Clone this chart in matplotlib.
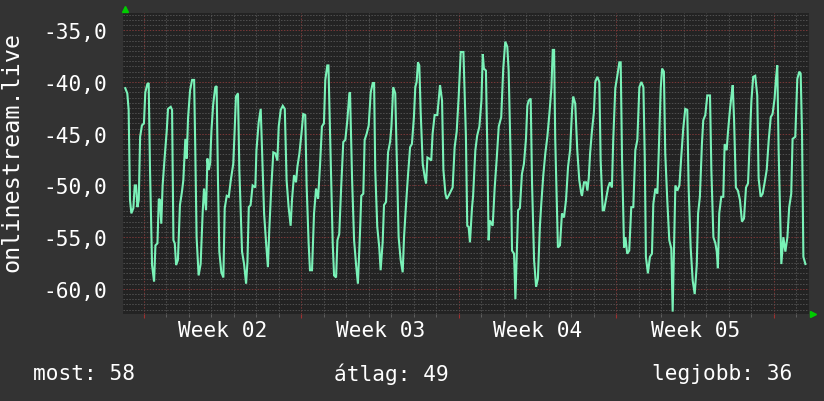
import matplotlib
matplotlib.use('Agg')
import matplotlib.pyplot as plt
from matplotlib.ticker import MultipleLocator, FixedLocator, FuncFormatter
import numpy as np

plt.rcParams['font.family'] = ['DejaVu Sans Mono']

# --- data: time in days from the left edge, value ---
days1 = [0.10, 0.19, 0.25, 0.31, 0.37, 0.46, 0.52, 0.58, 0.64, 0.70, 0.76, 0.84, 0.93, 0.99, 1.08,
         1.14, 1.20, 1.29, 1.38, 1.44, 1.53, 1.59, 1.64, 1.70, 1.76, 1.85, 1.94, 2.00, 2.12, 2.18,
         2.24, 2.30, 2.36, 2.44, 2.53, 2.62, 2.68, 2.77, 2.83, 2.89, 2.98, 3.07, 3.16, 3.21, 3.27,
         3.36, 3.45, 3.54, 3.60, 3.69, 3.75, 3.81, 3.87, 3.93, 4.01, 4.10, 4.16, 4.22, 4.28, 4.37,
         4.46, 4.52, 4.61, 4.70, 4.79, 4.90, 4.96]
vals1 = [-40.6, -41.1, -42.7, -51.4, -52.7, -52.2, -50.0, -50.0, -52.1, -51.4, -45.3, -44.2, -44.0, -41.0, -40.2,
         -40.1, -48.5, -57.7, -59.3, -55.8, -55.6, -51.3, -51.4, -53.7, -50.0, -47.3, -44.8, -42.6, -42.4, -42.7,
         -55.3, -55.6, -57.7, -57.2, -51.9, -50.6, -49.5, -45.5, -47.4, -43.5, -40.8, -39.8, -39.8, -46.3, -55.0,
         -58.7, -57.6, -52.6, -50.3, -52.4, -47.4, -48.5, -47.9, -44.7, -42.1, -40.5, -40.4, -49.5, -56.4, -58.4,
         -58.9, -52.2, -51.0, -51.1, -49.5, -47.9, -44.8]

days2 = [5.02, 5.11, 5.17, 5.29, 5.38, 5.47, 5.53, 5.59, 5.67, 5.76, 5.88, 5.93, 6.03, 6.12, 6.18,
         6.27, 6.36, 6.44, 6.50, 6.59, 6.68, 6.77, 6.86, 6.92, 7.01, 7.10, 7.19, 7.27, 7.36, 7.45,
         7.51, 7.60, 7.69, 7.75, 7.84, 7.93, 8.01, 8.10, 8.16, 8.25, 8.31, 8.40, 8.49, 8.58, 8.67,
         8.76, 8.84, 8.93, 8.99, 9.08, 9.13, 9.23, 9.32, 9.38, 9.47, 9.53, 9.61, 9.70, 9.79, 9.88,
         9.97, 10.06]
vals2 = [-41.4, -41.1, -48.5, -56.4, -57.6, -59.5, -57.4, -52.1, -51.9, -50.0, -50.2, -46.6, -43.9, -42.6, -46.6,
         -52.7, -55.6, -57.9, -54.3, -50.2, -46.8, -46.9, -47.6, -44.3, -42.7, -42.3, -42.6, -49.5, -52.1, -53.9,
         -51.4, -49.0, -49.7, -48.2, -46.9, -45.0, -43.1, -43.2, -50.0, -55.6, -58.2, -58.2, -52.7, -50.3, -51.3,
         -47.9, -44.3, -44.0, -39.8, -38.4, -38.4, -47.3, -55.6, -58.7, -58.9, -55.3, -54.7, -50.0, -45.8, -45.6,
         -43.7, -41.1]

days3 = [10.09, 10.18, 10.27, 10.36, 10.44, 10.53, 10.59, 10.68, 10.74, 10.83, 10.92, 11.01, 11.10, 11.16, 11.21,
         11.30, 11.39, 11.45, 11.54, 11.60, 11.69, 11.78, 11.87, 11.93, 12.01, 12.10, 12.16, 12.25, 12.34, 12.43,
         12.49, 12.58, 12.67, 12.76, 12.84, 12.93, 12.99, 13.05, 13.11, 13.17, 13.23, 13.32, 13.41, 13.47, 13.53,
         13.61, 13.70, 13.76, 13.85, 13.97, 14.03, 14.09, 14.18, 14.24, 14.33, 14.39, 14.47, 14.56, 14.65, 14.74,
         14.83, 14.92, 15.01, 15.13]
vals3 = [-41.0, -49.3, -55.3, -57.7, -59.5, -54.7, -51.0, -50.8, -45.6, -45.0, -44.2, -41.0, -40.1, -40.1, -48.5,
         -54.0, -56.0, -58.2, -55.5, -51.9, -51.6, -46.8, -45.8, -44.3, -40.5, -41.1, -46.6, -55.0, -57.2, -58.4,
         -55.0, -51.8, -48.9, -46.3, -46.0, -43.4, -40.5, -40.0, -38.1, -38.4, -42.9, -47.9, -49.2, -49.8, -47.3,
         -47.4, -47.6, -45.0, -43.2, -43.2, -41.8, -40.3, -41.8, -48.5, -50.8, -51.3, -51.0, -50.6, -50.2, -46.3,
         -44.8, -41.4, -37.1, -37.1]

days4 = [15.24, 15.30, 15.36, 15.42, 15.51, 15.56, 15.66, 15.74, 15.84, 15.93, 15.99, 16.04, 16.13, 16.19, 16.25,
         16.31, 16.43, 16.52, 16.61, 16.70, 16.81, 16.90, 16.99, 17.08, 17.14, 17.23, 17.29, 17.38, 17.44, 17.50,
         17.56, 17.64, 17.73, 17.82, 17.91, 17.97, 18.03, 18.12, 18.18, 18.27, 18.36, 18.44, 18.53, 18.59, 18.68,
         18.77, 18.86, 18.95, 19.04, 19.10, 19.16, 19.21, 19.27, 19.33, 19.42, 19.51, 19.60, 19.69, 19.78, 19.87,
         19.96, 20.01, 20.10, 20.19, 20.28, 20.37]
vals4 = [-45.2, -53.9, -54.0, -55.5, -52.2, -51.0, -46.6, -45.2, -44.3, -41.8, -37.3, -38.7, -38.9, -46.3, -55.3,
         -53.4, -53.9, -50.2, -47.4, -44.3, -43.4, -38.7, -36.1, -36.6, -38.9, -47.4, -56.3, -56.6, -61.0, -56.6,
         -52.4, -52.2, -48.9, -47.9, -45.5, -42.3, -41.8, -41.6, -49.8, -57.2, -59.8, -59.0, -53.9, -51.8, -49.0,
         -46.9, -45.3, -43.1, -40.6, -36.9, -36.9, -45.5, -50.8, -56.0, -55.8, -52.7, -53.1, -51.4, -48.2, -46.6,
         -42.7, -41.4, -42.1, -46.6, -49.5, -50.8]

days5 = [20.40, 20.49, 20.58, 20.64, 20.70, 20.76, 20.84, 20.93, 20.99, 21.08, 21.17, 21.23, 21.32, 21.38, 21.47,
         21.56, 21.64, 21.73, 21.79, 21.88, 21.97, 22.06, 22.12, 22.18, 22.27, 22.33, 22.41, 22.50, 22.59, 22.68,
         22.77, 22.86, 22.95, 23.04, 23.13, 23.19, 23.24, 23.33, 23.42, 23.51, 23.57, 23.66, 23.75, 23.81, 23.90,
         23.96, 24.04, 24.10, 24.19, 24.28, 24.37, 24.43, 24.49, 24.55, 24.64, 24.73, 24.81, 24.90, 24.99, 25.08,
         25.14, 25.23, 25.32, 25.41, 25.50]
vals5 = [-51.0, -49.7, -49.7, -50.5, -49.3, -46.9, -44.8, -42.9, -40.0, -39.5, -40.0, -47.6, -52.4, -52.4, -51.3,
         -50.2, -49.7, -50.2, -45.5, -40.6, -39.4, -38.1, -38.1, -47.4, -56.0, -55.0, -56.6, -56.3, -52.1, -52.1,
         -46.6, -45.6, -40.5, -40.0, -40.5, -47.3, -56.9, -58.5, -56.9, -56.6, -51.8, -50.3, -50.8, -46.9, -40.6,
         -38.7, -39.0, -46.9, -51.4, -55.3, -56.1, -62.2, -56.3, -50.0, -50.5, -50.0, -47.3, -44.5, -42.6, -42.7,
         -50.2, -56.0, -59.2, -60.5, -57.7]

days6 = [25.56, 25.64, 25.73, 25.79, 25.88, 25.97, 26.09, 26.15, 26.24, 26.33, 26.39, 26.44, 26.50, 26.59, 26.68,
         26.74, 26.83, 26.89, 26.98, 27.04, 27.10, 27.16, 27.24, 27.33, 27.42, 27.51, 27.60, 27.69, 27.78, 27.84,
         27.93, 28.01, 28.10, 28.19, 28.25, 28.34, 28.43, 28.52, 28.61, 28.70, 28.79, 28.87, 28.96, 29.02, 29.08,
         29.14, 29.23, 29.26, 29.35, 29.44, 29.53, 29.61, 29.70, 29.76, 29.88, 29.97, 30.06, 30.12, 30.18, 30.24,
         30.33]
vals6 = [-52.7, -51.1, -46.0, -43.7, -43.2, -41.3, -41.3, -48.5, -55.0, -55.6, -56.4, -58.0, -52.7, -51.1, -51.1,
         -46.0, -46.6, -44.8, -42.6, -41.4, -40.3, -43.7, -50.2, -50.5, -51.4, -53.5, -53.2, -50.2, -49.8, -46.6,
         -41.8, -39.5, -39.4, -41.3, -49.3, -51.1, -50.8, -49.7, -48.5, -45.6, -43.4, -43.1, -41.6, -39.7, -38.4,
         -46.6, -54.7, -57.6, -55.0, -56.4, -55.0, -52.1, -50.8, -45.5, -45.3, -39.7, -39.0, -39.2, -45.0, -56.9,
         -57.6]

week_labels = ['Week 02', 'Week 03', 'Week 04', 'Week 05']
week_start = 0.93          # first Monday (day offset from left edge)
footer = ['most: 58', 'átlag: 49', 'legjobb: 36']
ylabel = 'onlinestream.live'

t = np.concatenate([days1, days2, days3, days4, days5, days6])
v = np.concatenate([vals1, vals2, vals3, vals4, vals5, vals6])

# colours (rrdtool dark theme)
BG = '#333333'
CANVAS = '#232323'
LINE = '#7af2b8'
MAJOR = '#7a3838'
MINOR = '#505050'
TXT = '#ffffff'
FS = 15.2

fig = plt.figure(figsize=(8.24, 4.02), dpi=100, facecolor=BG)
ax = fig.add_axes([0.1493, 0.2164, 0.8325, 0.7488], facecolor=CANVAS)

ax.plot(t, v, color=LINE, lw=1.5, solid_joinstyle='miter', zorder=5)

ax.set_xlim(0, 30.49)
ax.set_ylim(-62.43, -33.33)

# grid
ax.yaxis.set_major_locator(MultipleLocator(5))
ax.yaxis.set_minor_locator(MultipleLocator(0.5))
ax.xaxis.set_major_locator(FixedLocator(week_start + 7 * np.arange(5)))
ax.xaxis.set_minor_locator(FixedLocator(week_start + np.arange(-1, 31)))
ax.grid(which='minor', color=MINOR, lw=0.7, ls=(0, (1.5, 1.5)))
ax.grid(which='major', color=MAJOR, lw=0.7, ls=(0, (1.5, 1.5)))
ax.set_axisbelow(True)

ax.yaxis.set_major_formatter(FuncFormatter(lambda y, p: f'{y:.1f}'.replace('.', ',')))
ax.tick_params(axis='y', which='both', length=0, labelsize=FS, labelcolor=TXT, pad=11.5)
ax.tick_params(axis='x', which='major', length=3, color='#a03030', labelbottom=False)
ax.tick_params(axis='x', which='minor', length=2, color='#666666')
for s in ax.spines.values():
    s.set_visible(False)

# week labels in the middle of each week
for i, lab in enumerate(week_labels):
    ax.text(week_start + 7 * i + 3.5, -0.053, lab, transform=ax.get_xaxis_transform(),
            ha='center', va='center', fontsize=FS, color=TXT)

# axis arrows
fig.lines.append(plt.Line2D([0.1511], [0.975], marker='^', ms=5, color='#00cc00',
                            transform=fig.transFigure))
fig.lines.append(plt.Line2D([0.9866], [0.2152], marker='>', ms=5, color='#00cc00',
                            transform=fig.transFigure))

fig.text(0.0150, 0.623, ylabel, rotation=90, ha='center', va='center', fontsize=16.8, color=TXT)

for x, s in zip([0.040, 0.4053, 0.791], footer):
    fig.text(x, 0.0697, s, ha='left', va='center', fontsize=FS, color=TXT)

fig.savefig('out.png', dpi=100, facecolor=BG)
